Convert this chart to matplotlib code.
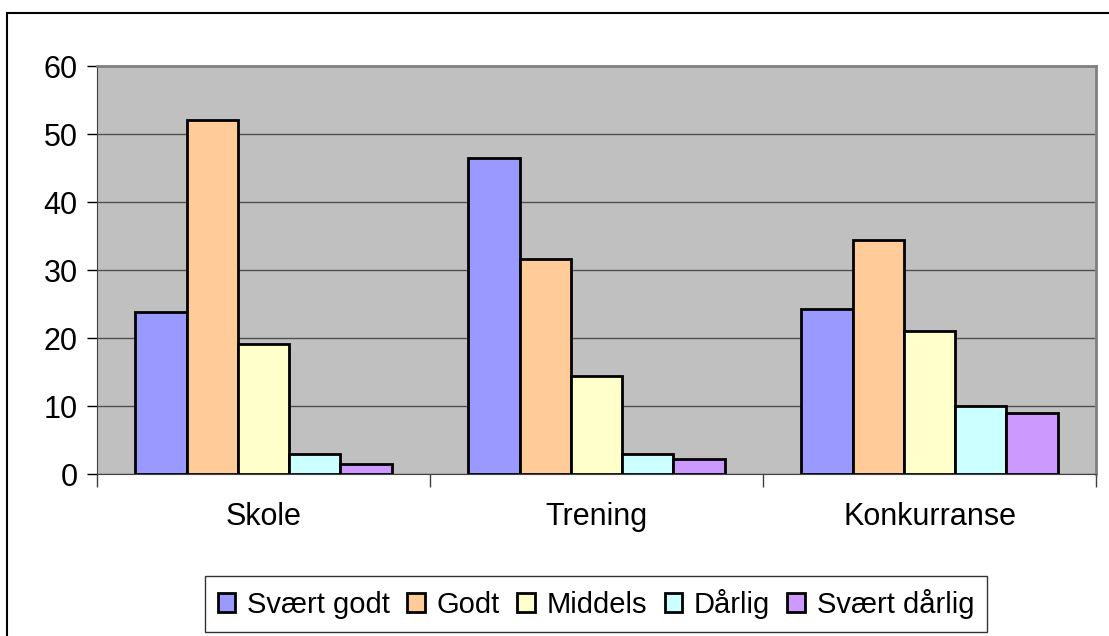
import numpy as np
import matplotlib.pyplot as plt
from matplotlib.patches import Rectangle

plt.rcParams['font.family'] = ['Liberation Sans', 'DejaVu Sans']

# data
categories = ['Skole', 'Trening', 'Konkurranse']
series = ['Svært godt', 'Godt', 'Middels', 'Dårlig', 'Svært dårlig']
svaert_godt = [23.8, 46.5, 24.3]
godt = [52.1, 31.7, 34.4]
middels = [19.1, 14.4, 21.1]
darlig = [3.0, 3.0, 10.1]
svaert_darlig = [1.5, 2.3, 9.0]
values = [svaert_godt, godt, middels, darlig, svaert_darlig]
colors = ['#9999FF', '#FFCC99', '#FFFFCC', '#CCFFFF', '#CC99FF']

W, H = 1109, 636
fig = plt.figure(figsize=(W / 100, H / 100), dpi=100)

# outer chart border
fig.patches.append(Rectangle((7 / W, -0.1), 1.2, (H - 13) / H + 0.1,
                             transform=fig.transFigure, fill=False,
                             edgecolor='black', linewidth=1.5))

ax = fig.add_axes([97 / W, (H - 474.3) / H, 999 / W, 408.3 / H])
ax.set_facecolor('#C0C0C0')

x = np.arange(len(categories))
bw = 0.154
for i, (name, vals) in enumerate(zip(series, values)):
    ax.bar(x + (i - 2) * bw, vals, bw, color=colors[i], edgecolor='black',
           linewidth=2, label=name, zorder=3)

ax.set_xlim(-0.5, 2.5)
ax.set_ylim(0, 60)
ax.set_yticks(range(0, 61, 10))
ax.yaxis.grid(True, color='#505050', linewidth=1, zorder=1)

# category boundaries carry the x tick marks
ax.set_xticks([-0.5, 0.5, 1.5, 2.5])
ax.set_xticklabels([])
ax.tick_params(axis='x', length=9, width=1, color='#404040', direction='out')
ax.tick_params(axis='y', length=7, width=1, color='black', labelsize=22, pad=7)
for xi, c in zip(x, categories):
    ax.text(xi, -6.3, c, ha='center', va='center', fontsize=22)

for side in ['top', 'right']:
    ax.spines[side].set_color('#808080')
    ax.spines[side].set_linewidth(2)
ax.spines['left'].set_color('#404040')
ax.spines['bottom'].set_color('#404040')

leg = fig.legend(loc='center', bbox_to_anchor=(596 / W, (H - 604) / H),
                 ncol=5, fontsize=21, frameon=True, fancybox=False,
                 handlelength=0.6, handleheight=0.6, handletextpad=0.4,
                 columnspacing=0.6, borderpad=0.45)
leg.get_frame().set_edgecolor('black')
leg.get_frame().set_linewidth(1)

fig.savefig('out.png', dpi=100)
